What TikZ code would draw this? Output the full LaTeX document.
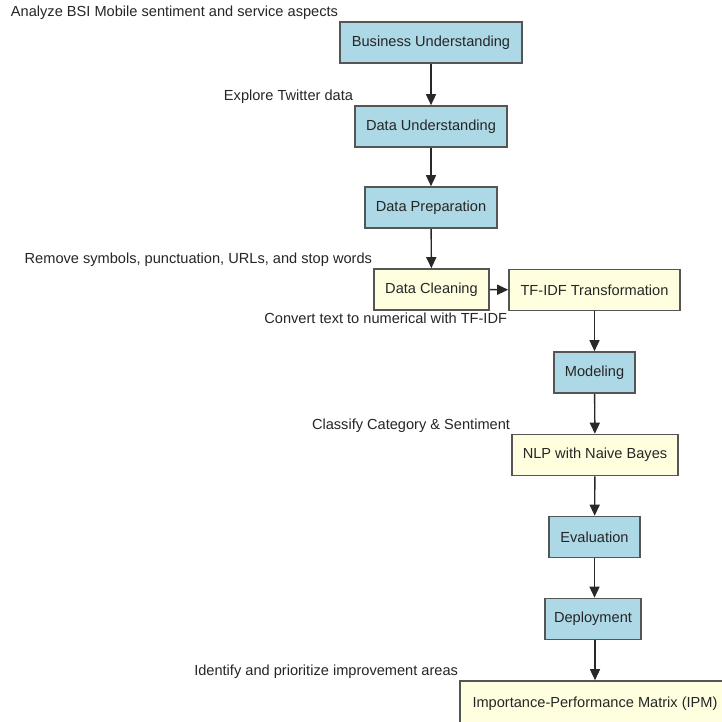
\documentclass[tikz,border=0pt]{standalone}
\usepackage{fontspec}
\setmainfont{Liberation Sans}
\usetikzlibrary{arrows.meta}
\definecolor{stepblue}{RGB}{173,216,230}
\definecolor{stepyellow}{RGB}{255,255,224}
\definecolor{stepedge}{RGB}{85,85,85}
\definecolor{arrowgray}{RGB}{40,40,40}
\tikzset{
  box/.style={draw=stepedge, line width=1.6pt, minimum height=41pt, inner sep=0pt,
    font=\fontsize{14.6}{17}\selectfont, text=black!85},
  bluebox/.style={box, fill=stepblue},
  yellowbox/.style={box, fill=stepyellow},
  note/.style={font=\fontsize{14.6}{17}\selectfont, text=black!85, inner sep=1pt},
  flow/.style={draw=arrowgray, line width=1.4pt, -{Triangle[length=11pt,width=10pt]}},
}
\begin{document}
\begin{tikzpicture}[x=1pt,y=-1pt]
\useasboundingbox (0,0) rectangle (721,722);
\fill[white] (0,0) rectangle (721,722);

% process steps
\node[bluebox, minimum width=182pt] (bu) at (431,42.5) {Business Understanding};
\node[bluebox, minimum width=152pt] (du) at (431,126.5) {Data Understanding};
\node[bluebox, minimum width=132pt] (dp) at (431,207.5) {Data Preparation};
\node[yellowbox, minimum width=115pt] (dc) at (431.5,289.5) {Data Cleaning};
\node[yellowbox, minimum width=171pt] (tf) at (594.5,290) {TF-IDF Transformation};
\node[bluebox, minimum width=81pt] (mo) at (594.5,372.5) {Modeling};
\node[yellowbox, minimum width=166pt] (nb) at (595,455) {NLP with Naive Bayes};
\node[bluebox, minimum width=91pt] (ev) at (594.5,537) {Evaluation};
\node[bluebox, minimum width=96pt] (de) at (593,619) {Deployment};
\node[yellowbox, minimum width=270pt, minimum height=46pt] (ip) at (595,704) {Importance-Performance Matrix (IPM)};

% notes attached to the steps
\node[note, anchor=south east] (n1) at (bu.north west) {Analyze BSI Mobile sentiment and service aspects};
\node[note, anchor=south east] (n2) at (du.north west) {Explore Twitter data};
\node[note, anchor=south east] (n3) at (dc.north west) {Remove symbols, punctuation, URLs, and stop words};
\node[note, anchor=north east] (n4) at (tf.south west) {Convert text to numerical with TF-IDF};
\node[note, anchor=south east] (n5) at (nb.north west) {Classify Category \& Sentiment};
\node[note, anchor=south east] (n6) at (ip.north west) {Identify and prioritize improvement areas};

% connectors
\draw[flow] (bu) -- (du);
\draw[flow] (du) -- (dp);
\draw[flow] (dp) -- (dc);
\draw[flow] (dc) -- (tf);
\draw[flow] (tf) -- (mo);
\draw[flow] (mo) -- (nb);
\draw[flow] (nb) -- (ev);
\draw[flow] (ev.south) -- (ev.south |- de.north);
\draw[flow] (de.south -| ip.north) -- (ip.north);
\end{tikzpicture}
\end{document}
